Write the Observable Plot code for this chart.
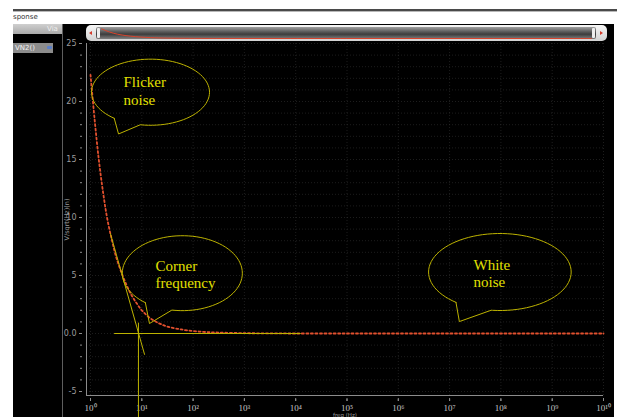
<!DOCTYPE html>
<html><head><meta charset="utf-8">
<script src="https://cdn.jsdelivr.net/npm/d3@7"></script>
<script src="https://cdn.jsdelivr.net/npm/@observablehq/plot@0.6"></script>
<style>
html,body{margin:0;padding:0;background:#fff;}
#root{position:relative;width:617px;height:417px;overflow:hidden;background:#fff;font-family:"DejaVu Sans",sans-serif;}
.abs{position:absolute;}
</style></head><body>
<div id="root">
  <div class="abs" style="left:13px;top:9px;width:604px;height:2px;background:#4a4a4a;"></div>
  <div class="abs" style="left:13px;top:11px;width:604px;height:1px;background:#b8b8b8;"></div>
  <div class="abs" style="left:13px;top:13px;font-size:7px;line-height:8px;color:#333;">sponse</div>
  <div class="abs" style="left:13px;top:24px;width:601px;height:393px;background:#000;"></div>
  <div class="abs" style="left:13px;top:24px;width:50px;height:10px;background:linear-gradient(#cfcfcf,#a9a9a9);"></div>
  <div class="abs" style="left:47px;top:25px;font-size:7px;line-height:8px;color:#eee;">Via</div>
  <div class="abs" style="left:62px;top:24px;width:1px;height:393px;background:#5e5e5e;"></div>
  <div class="abs" style="left:13px;top:43px;width:40px;height:10px;background:#8c8c8c;"></div>
  <div class="abs" style="left:15px;top:44px;font-size:7px;line-height:8px;color:#f2f2f2;">VN2()</div>
  <div class="abs" style="left:47px;top:46px;width:5px;height:3px;background:#5b7fc8;border-radius:1px;"></div>
  <!-- scrollbar -->
  <div class="abs" style="left:86px;top:25px;width:521px;height:16px;border-radius:5px;background:linear-gradient(#f6f6f6,#d2d2d2);"></div>
  <div class="abs" style="left:96px;top:27px;width:500px;height:12px;border-radius:2px;background:linear-gradient(#a0a0a0,#626262 35%,#3c3c3c 60%,#808080);"></div>
  <div class="abs" style="left:97px;top:28px;width:3px;height:10px;border-radius:1px;background:#eee;"></div>
  <div class="abs" style="left:592px;top:28px;width:3px;height:10px;border-radius:1px;background:#eee;"></div>
  <div class="abs" style="left:89px;top:31px;width:0;height:0;border-top:2.5px solid transparent;border-bottom:2.5px solid transparent;border-right:3px solid #d43a2a;"></div>
  <div class="abs" style="left:600px;top:31px;width:0;height:0;border-top:2.5px solid transparent;border-bottom:2.5px solid transparent;border-left:3px solid #d43a2a;"></div>
  <div class="abs" id="mini" style="left:101px;top:28px;"></div>
  <div class="abs" id="chart" style="left:0;top:0;"></div>
</div>
<script>
// ---- data ----
const freq  = [1, 1.2, 1.45, 1.78, 2.14, 2.63, 3.16, 3.98, 5.01, 6.31, 7.94, 10, 14.8, 22.4, 31.6, 50.1, 79.4, 158, 316, 1000, 3162, 1e4, 1e5, 1e6, 1e7, 1e8, 1e9, 1e10];
const noise = [22.3, 18.5, 15.0, 12.0, 9.8, 8.0, 6.6, 5.3, 4.2, 3.3, 2.6, 2.0, 1.3, 0.85, 0.6, 0.4, 0.26, 0.14, 0.08, 0.03, 0.01, 0, 0, 0, 0, 0, 0, 0];

// annotation lines
const tangentFreq  = [2.45, 11.3];
const tangentValue = [8.6, -1.8];
const floorFreq    = [2.94, 12300];
const floorValue   = [0, 0];
const cornerFreq   = [8.6, 8.6];
const cornerValue  = [0.9, -7.3];

// speech bubbles
const bubbleText      = ["Flicker\nnoise", "Corner\nfrequency", "White\nnoise"];
const bubbleTextFreq  = [4.4, 18.5, 2.92e7];
const bubbleTextValue = [22.3, 6.5, 6.6];
const bubbleLogCenter = [1.17, 1.79, 7.98];
const bubbleValCenter = [20.8, 5.2, 5.3];
const bubbleLogRadius = [1.15, 1.17, 1.39];
const bubbleValRadius = [2.85, 3.23, 3.32];
const bubbleTailFrom  = [128, 128, 128];
const bubbleTailTo    = [100, 100, 97];
const bubbleTipFreq   = [3.52, 14.1, 1.55e7];
const bubbleTipValue  = [17.2, 0.86, 1.03];

// axis ticks
const yMajor = [-5, 0, 5, 10, 15, 20, 25];
const yMinor = d3.range(-5, 26);
const xMajor = d3.range(0, 11).map(e => Math.pow(10, e));
const xMinor = d3.scaleLog().domain([1, 1e10]).ticks();

const sup = {"0":"⁰","1":"¹","2":"²","3":"³","4":"⁴","5":"⁵","6":"⁶","7":"⁷","8":"⁸","9":"⁹"};
const supFmt = d => "10" + String(Math.round(Math.log10(d))).split("").map(c => sup[c]).join("");

const curve = freq.map((f, i) => ({f, v: noise[i]}));
const tangent = tangentFreq.map((f, i) => ({f, v: tangentValue[i]}));
const floorL = floorFreq.map((f, i) => ({f, v: floorValue[i]}));
const cornerL = cornerFreq.map((f, i) => ({f, v: cornerValue[i]}));

const bubblePts = [];
bubbleText.forEach((t, b) => {
  const pt = a => {
    const r = a * Math.PI / 180;
    return {id: b, f: Math.pow(10, bubbleLogCenter[b] + bubbleLogRadius[b] * Math.cos(r)), v: bubbleValCenter[b] - bubbleValRadius[b] * Math.sin(r)};
  };
  const a0 = bubbleTailFrom[b], a1 = bubbleTailTo[b] + 360;
  for (let a = a0; a < a1; a += 4) bubblePts.push(pt(a));
  bubblePts.push(pt(a1));
  bubblePts.push({id: b, f: bubbleTipFreq[b], v: bubbleTipValue[b]});
  bubblePts.push(pt(a0));
});
const labels = bubbleText.map((t, i) => ({t, f: bubbleTextFreq[i], v: bubbleTextValue[i]}));

const yellow = "#bdb300";
const axisGray = "#8c8c8c";
const chart = Plot.plot({
  width: 617, height: 417,
  marginLeft: 86, marginRight: 14, marginTop: 43, marginBottom: 22,
  style: {background: "transparent", color: "#a0a0a0", fontFamily: "DejaVu Sans", fontSize: "8px", overflow: "visible"},
  x: {type: "log", domain: [1, 1e10], range: [90, 603]},
  y: {domain: [-5, 25], range: [391, 43]},
  marks: [
    Plot.gridX(xMinor, {stroke: "#3a3a3a", strokeOpacity: 0.5, strokeDasharray: "1,2"}),
    Plot.gridY(yMinor, {stroke: "#3a3a3a", strokeOpacity: 0.5, strokeDasharray: "1,2"}),
    Plot.ruleX([1], {dx: -4, stroke: axisGray}),
    Plot.ruleY([-5], {dy: 4, stroke: axisGray}),
    Plot.axisY(yMinor, {tickSize: 2, tickFormat: () => "", label: null, stroke: axisGray, dx: -4}),
    Plot.axisY(yMajor, {tickSize: 3, tickPadding: 3, tickFormat: d => d === 0 ? "0.0" : String(d), stroke: axisGray, fill: "#9c9c9c", fontSize: 8, dx: -4, label: null}),
    Plot.axisY([], {label: "V/sqrt(Hz)(n)", labelAnchor: "center", labelOffset: 22, labelArrow: "none", fill: "#9c9c9c", fontSize: 6.5, dx: -4}),
    Plot.axisX(xMinor, {tickSize: 2, tickFormat: () => "", label: null, stroke: axisGray, dy: 4}),
    Plot.axisX(xMajor, {tickSize: 3, tickPadding: 3, tickFormat: supFmt, stroke: axisGray, fill: "#c4c4c4", fontFamily: "Liberation Serif", fontSize: 9, dy: 3, label: null}),
    Plot.axisX([], {label: "freq (Hz)", labelAnchor: "center", labelOffset: 21, labelArrow: "none", fill: "#9c9c9c", fontSize: 5.5, dy: 2}),
    Plot.line(curve, {x: "f", y: "v", stroke: "#e2502e", strokeWidth: 1.8, strokeDasharray: "2,2.5", curve: "catmull-rom"}),
    Plot.line(tangent, {x: "f", y: "v", stroke: yellow, strokeWidth: 1}),
    Plot.line(floorL, {x: "f", y: "v", stroke: yellow, strokeWidth: 1}),
    Plot.line(cornerL, {x: "f", y: "v", stroke: yellow, strokeWidth: 1}),
    Plot.line(bubblePts, {x: "f", y: "v", z: "id", stroke: yellow, strokeWidth: 1, curve: "linear"}),
    Plot.text(labels, {x: "f", y: "v", text: "t", textAnchor: "start", lineAnchor: "top", lineHeight: 1.18, fill: "#e3e000", fontFamily: "Liberation Serif", fontSize: 15})
  ]
});
document.getElementById("chart").appendChild(chart);

const mini = Plot.plot({
  width: 490, height: 10, margin: 0,
  style: {background: "transparent", overflow: "visible"},
  x: {type: "log", domain: [1, 1e10], axis: null},
  y: {domain: [0, 23], axis: null},
  marks: [Plot.line(curve, {x: "f", y: "v", stroke: "#d8432c", strokeWidth: 1, curve: "catmull-rom"})]
});
document.getElementById("mini").appendChild(mini);
</script>
</body></html>
